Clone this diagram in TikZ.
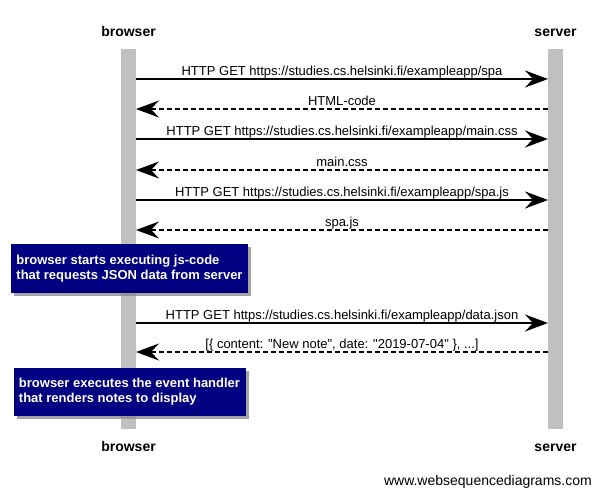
\documentclass[tikz,border=0pt]{standalone}
\usepackage{fontspec}
\setmainfont{Liberation Sans}
\usetikzlibrary{arrows.meta,positioning,shadows}
\definecolor{notebg}{HTML}{000080}
\definecolor{lifegray}{HTML}{C0C0C0}
\tikzset{
    msg/.style={line width=1.8pt, -{Stealth[length=23pt, width=17pt, inset=8pt]}},
    reply/.style={msg, line width=1.3pt, dash pattern=on 5pt off 3pt},
    lbl/.style={font=\fontsize{13}{15}\selectfont, anchor=base, inner sep=0pt, yshift=4pt},
    actor/.style={font=\fontsize{14}{16}\selectfont\bfseries, inner sep=0pt, anchor=base},
    note/.style={fill=notebg, text=white, font=\fontsize{13}{15.5}\selectfont\bfseries,
        align=left, inner xsep=5pt, inner ysep=0pt,
        drop shadow={shadow xshift=3pt, shadow yshift=-3pt, fill=black!45, opacity=0.8}}
}
\begin{document}
\begin{tikzpicture}[x=1pt, y=-1pt]
        \useasboundingbox (0,0) rectangle (602,496);
        % lifelines
        \fill[lifegray] (121,49) rectangle (136,429);
        \fill[lifegray] (548,49) rectangle (563,429);
        \node[actor] (btop) at (128.5,36.7) {browser};
        \node[actor] (stop) at (555.5,36.7) {server};
        \node[actor] (bbot) at (128.5,451.5) {browser};
        \node[actor] (sbot) at (555.5,451.5) {server};
        % message ends
        \foreach \i/\y in {1/79, 2/109, 3/139, 4/170, 5/200, 6/230, 7/323, 8/352} {
            \coordinate (b\i) at (136,\y);
            \coordinate (s\i) at (548,\y);
        }
        \draw[msg] (b1) -- node[lbl] {HTTP GET https://studies.cs.helsinki.fi/exampleapp/spa} (s1);
        \draw[reply] (s2) -- node[lbl] {HTML-code} (b2);
        \draw[msg] (b3) -- node[lbl] {HTTP GET https://studies.cs.helsinki.fi/exampleapp/main.css} (s3);
        \draw[reply] (s4) -- node[lbl] {main.css} (b4);
        \draw[msg] (b5) -- node[lbl] {HTTP GET https://studies.cs.helsinki.fi/exampleapp/spa.js} (s5);
        \draw[reply] (s6) -- node[lbl] {spa.js} (b6);
        \node[note, minimum width=237pt, minimum height=49pt] (note1) at (129.5,268.5)
            {browser starts executing js-code\\that requests JSON data from server};
        \draw[msg] (b7) -- node[lbl] {HTTP GET https://studies.cs.helsinki.fi/exampleapp/data.json} (s7);
        \draw[reply] (s8) -- node[lbl] {[\{ content: \textquotedbl New note\textquotedbl, date: \textquotedbl 2019-07-04\textquotedbl\ \}, ...]} (b8);
        \node[note, minimum width=232pt, minimum height=48pt] (note2) at (129.5,391.7)
            {browser executes the event handler\\that renders notes to display};
        \node[font=\fontsize{14}{16}\selectfont, anchor=east, inner sep=0pt] (wsd) at (592,481.5)
            {www.websequencediagrams.com};
    \end{tikzpicture}
\end{document}
